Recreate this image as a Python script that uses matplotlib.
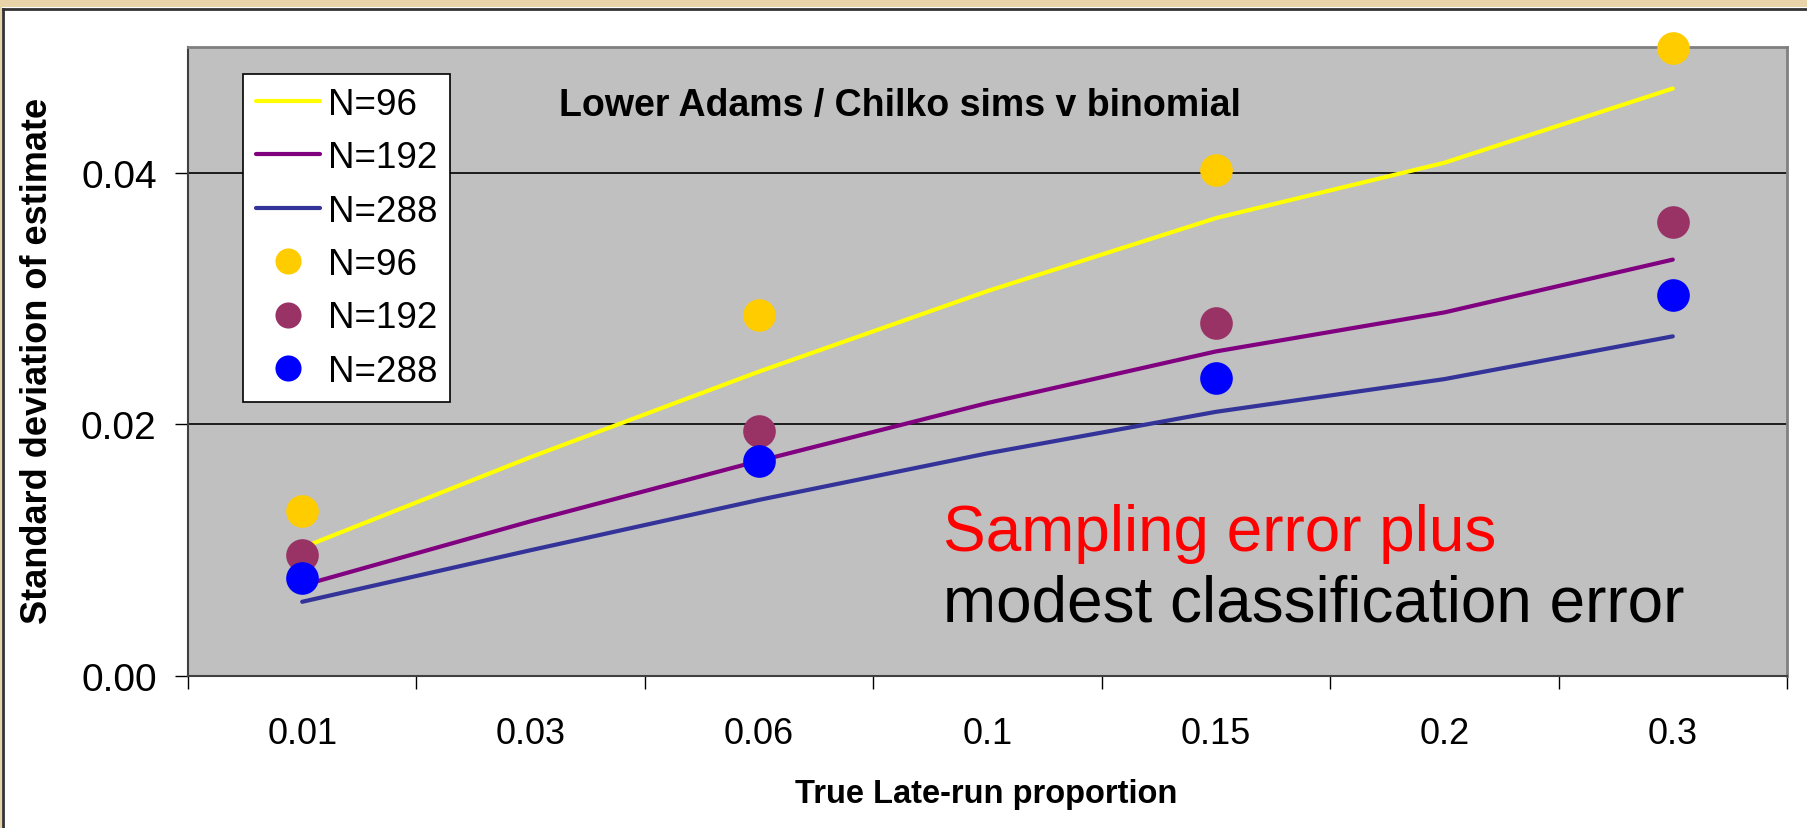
import matplotlib
matplotlib.use("Agg")
import matplotlib.pyplot as plt
from matplotlib.patches import Rectangle
from matplotlib.lines import Line2D

# ---------------- data ----------------
categories = ['0.01', '0.03', '0.06', '0.1', '0.15', '0.2', '0.3']
line_n96 = [0.0102, 0.0174, 0.0242, 0.0306, 0.0364, 0.0408, 0.0467]
line_n192 = [0.0072, 0.0123, 0.0171, 0.0217, 0.0258, 0.0289, 0.0331]
line_n288 = [0.0059, 0.0100, 0.0140, 0.0177, 0.0210, 0.0236, 0.0270]
point_categories = ['0.01', '0.06', '0.15', '0.3']
pts_n96 = [0.0131, 0.0287, 0.0402, 0.0499]
pts_n192 = [0.0096, 0.0195, 0.0281, 0.0361]
pts_n288 = [0.0078, 0.0171, 0.0237, 0.0303]
y_ticks = [0.00, 0.02, 0.04]
y_tick_labels = ['0.00', '0.02', '0.04']

W, H = 1807, 829
DPI = 100
plt.rcParams['font.family'] = ['Liberation Sans', 'DejaVu Sans']
narrow = ['Liberation Sans Narrow', 'Liberation Sans']

fig = plt.figure(figsize=(W / DPI, H / DPI), dpi=DPI, facecolor='white')

# textured frame (top and left strips)
tan = '#E8D4A8'
fig.patches.append(Rectangle((0, 1 - 8 / H), 1, 8 / H, transform=fig.transFigure,
                             facecolor=tan, edgecolor='none', zorder=0))
fig.patches.append(Rectangle((0, 0), 2 / W, 1, transform=fig.transFigure,
                             facecolor=tan, edgecolor='none', zorder=0))
fig.lines.append(Line2D([2.5 / W, 1], [1 - 9.5 / H, 1 - 9.5 / H], transform=fig.transFigure,
                        color='#333333', lw=2))
fig.lines.append(Line2D([3 / W, 3 / W], [0, 1 - 9.5 / H], transform=fig.transFigure,
                        color='#333333', lw=2))

left, right, top, bottom = 188, 1787, 48, 677
ax = fig.add_axes([left / W, 1 - bottom / H, (right - left) / W, (bottom - top) / H])
ax.set_facecolor('#C0C0C0')

idx = list(range(len(categories)))
pidx = [categories.index(c) for c in point_categories]

ax.plot(idx, line_n96, color='#FFFF00', lw=3, solid_capstyle='round', label='N=96', zorder=3)
ax.plot(idx, line_n192, color='#800080', lw=3, solid_capstyle='round', label='N=192', zorder=3)
ax.plot(idx, line_n288, color='#333399', lw=3, solid_capstyle='round', label='N=288', zorder=3)
ax.plot(pidx, pts_n96, 'o', color='#FFCC00', ms=23.5, mec='none', label='N=96', zorder=4, clip_on=False)
ax.plot(pidx, pts_n192, 'o', color='#993366', ms=23.5, mec='none', label='N=192', zorder=4, clip_on=False)
ax.plot(pidx, pts_n288, 'o', color='#0000FF', ms=23.5, mec='none', label='N=288', zorder=4, clip_on=False)

ax.set_xlim(-0.5, len(categories) - 0.5)
ax.set_ylim(0, 0.05)
ax.set_yticks(y_ticks)
ax.set_yticklabels(y_tick_labels)
ax.yaxis.grid(True, color='black', lw=1.2)
ax.set_axisbelow(True)
ax.tick_params(axis='y', direction='out', length=9.5, width=1, pad=13, labelsize=28)

ax.set_xticks([i - 0.5 for i in range(len(categories) + 1)])
ax.set_xticklabels([])
ax.set_xticks(idx, minor=True)
ax.set_xticklabels(categories, minor=True)
ax.tick_params(axis='x', which='major', direction='out', length=9, width=1)
ax.tick_params(axis='x', which='minor', length=0, pad=29, labelsize=26)

for s in ['top', 'right']:
    ax.spines[s].set_color('#808080')
    ax.spines[s].set_linewidth(2)
ax.spines['left'].set_color('#404040')
ax.spines['bottom'].set_color('#404040')
ax.spines['left'].set_linewidth(1.5)
ax.spines['bottom'].set_linewidth(1.5)

# title inside plot
fig.text(900 / W, 1 - 106 / H, 'Lower Adams / Chilko sims v binomial', ha='center', va='center',
         fontsize=27, fontweight='bold', family=narrow)

# annotation
fig.text(943 / W, 1 - 551 / H, 'Sampling error plus', color='#FF0000', fontsize=46,
         ha='left', va='baseline')
fig.text(943 / W, 1 - 622 / H, 'modest classification error', color='black', fontsize=46,
         ha='left', va='baseline')

# axis labels
fig.text(38 / W, 1 - 361 / H, 'Standard deviation of estimate', rotation=90, ha='center',
         va='center', fontsize=26, fontweight='bold', family=narrow)
fig.text(986 / W, 1 - 795 / H, 'True Late-run proportion', ha='center', va='center',
         fontsize=23.5, fontweight='bold', family=narrow)

leg = ax.legend(loc='upper left', bbox_to_anchor=(243 / W, 1 - 75 / H),
                bbox_transform=fig.transFigure, borderaxespad=0, fancybox=False,
                edgecolor='black', framealpha=1, facecolor='white', fontsize=26.5,
                handlelength=1.75, handletextpad=0.2, labelspacing=0.5, borderpad=0.35,
                markerscale=0.8)
leg.get_frame().set_linewidth(1.2)

fig.savefig('out.png', dpi=DPI, facecolor='white')
